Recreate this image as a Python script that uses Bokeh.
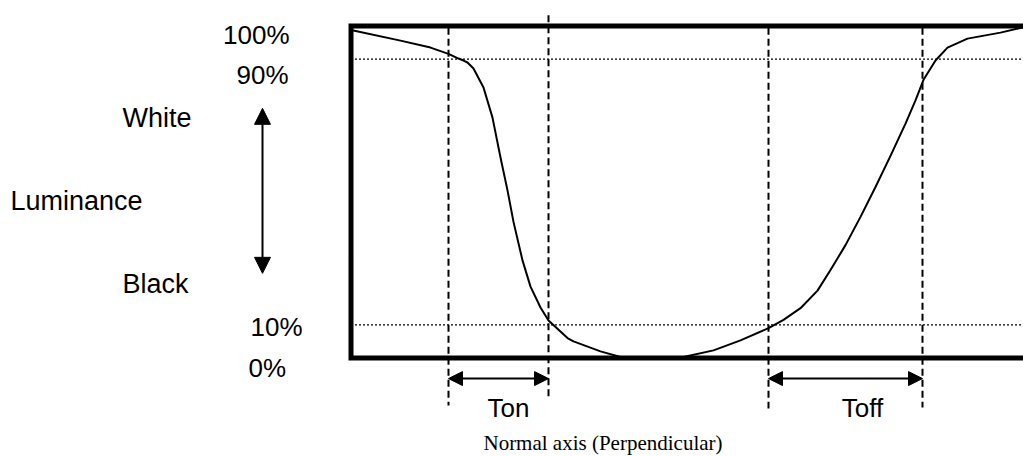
from bokeh.plotting import figure
from bokeh.models import Arrow, NormalHead
from bokeh.core.properties import value
from bokeh.embed import file_html
from bokeh.resources import INLINE

# ---- data (time in arbitrary units, luminance in %) ----
t_curve = [0.0, 4.95, 7.95, 9.75, 10.75, 11.25, 11.65, 12.25, 13.25, 14.15, 14.95,
           15.65, 16.25, 17.15, 17.95, 18.95, 19.75, 21.65, 22.25, 24.95, 26.95,
           29.95, 33.25, 36.25, 38.95, 41.75, 43.25, 44.95, 46.65, 47.95, 49.45,
           50.95, 52.45, 53.95, 55.45, 56.45, 57.25, 58.45, 59.65, 61.65, 64.95,
           67.25]
lum_curve = [98.8, 95.6, 93.5, 91.6, 90.2, 89.6, 89.0, 87.2, 81.5, 72.4, 60.4,
             50.5, 41.0, 29.4, 21.5, 15.2, 11.3, 6.0, 5.0, 2.0, 0.3,
             0.0, 0.3, 2.3, 5.3, 9.0, 11.5, 15.0, 20.3, 26.5, 34.0,
             42.5, 51.5, 60.9, 70.6, 77.6, 83.8, 89.6, 93.5, 96.2, 98.0,
             99.6]

box_left, box_right = 0.0, 70.0
lum_min, lum_max = 0.0, 100.0
thresholds = [90.0, 10.0]

marker_t = [9.75, 19.75, 41.75, 57.15]          # Ton start/end, Toff start/end
marker_top = [99.5, 103.2, 99.5, 99.5]
marker_bottom = [-14.3, -12.2, -15.2, -14.9]

ton = (9.75, 19.75)
toff = (41.75, 57.15)
span_arrow_y = -6.2

lum_arrow_t = -8.85
lum_arrow_top, lum_arrow_bottom = 75.2, 25.5

pct_right_labels = ["100%", "90%"]
pct_right_t = [-6.15, -6.25]
pct_right_y = [97.4, 85.1]

pct_left_labels = ["10%", "0%"]
pct_left_t = [-10.05, -10.25]
pct_left_y = [9.2, -2.9]

word_labels = ["White", "Luminance", "Black"]
word_t = [-22.85, -34.05, -22.85]
word_y = [72.4, 47.4, 22.4]

span_labels = ["Ton", "Toff"]
span_t = [15.75, 51.15]
span_y = [-15.2, -15.2]

axis_title = "Normal axis (Perpendicular)"
axis_title_t = 25.2
axis_title_y = -25.6

# ---- figure ----
p = figure(width=1023, height=456, x_range=(-35.05, 67.25), y_range=(-29.67, 107.68),
           output_backend="svg", toolbar_location=None, min_border=0,
           background_fill_color="white", border_fill_color="white")
p.axis.visible = False
p.grid.visible = False
p.outline_line_color = None

# threshold dotted lines
for th in thresholds:
    p.line([box_left, box_right], [th, th], line_color="black", line_width=1.3,
           line_dash="2 2")

# marker dashed lines
p.segment(x0=marker_t, y0=marker_top, x1=marker_t, y1=marker_bottom,
          line_color="black", line_width=2, line_dash="7 4")

# response curve
p.line(t_curve, lum_curve, line_color="black", line_width=2, line_join="round")

# box
p.line([box_right, box_left, box_left, box_right], [lum_max, lum_max, lum_min, lum_min],
       line_color="black", line_width=5, line_join="miter")

# span arrows
for a, b in (ton, toff):
    p.add_layout(Arrow(x_start=a, y_start=span_arrow_y, x_end=b, y_end=span_arrow_y,
                       line_width=2, line_color="black",
                       start=NormalHead(size=14, fill_color="black", line_color="black"),
                       end=NormalHead(size=14, fill_color="black", line_color="black")))

# luminance arrow
p.add_layout(Arrow(x_start=lum_arrow_t, y_start=lum_arrow_bottom, x_end=lum_arrow_t,
                   y_end=lum_arrow_top, line_width=2, line_color="black",
                   start=NormalHead(size=16, fill_color="black", line_color="black"),
                   end=NormalHead(size=16, fill_color="black", line_color="black")))

sans = value("Liberation Sans")
p.text(x=pct_right_t, y=pct_right_y, text=pct_right_labels, text_font=sans,
       text_font_size="26px", text_align="right", text_baseline="alphabetic",
       text_color="black")
p.text(x=pct_left_t, y=pct_left_y, text=pct_left_labels, text_font=sans,
       text_font_size="26px", text_align="left", text_baseline="alphabetic",
       text_color="black")
p.text(x=word_t, y=word_y, text=word_labels, text_font=sans,
       text_font_size="27px", text_align="left", text_baseline="alphabetic",
       text_color="black")
p.text(x=span_t, y=span_y, text=span_labels, text_font=sans,
       text_font_size="26px", text_align="center", text_baseline="alphabetic",
       text_color="black")
p.text(x=[axis_title_t], y=[axis_title_y], text=[axis_title],
       text_font=value("Liberation Serif"), text_font_size="21px",
       text_align="center", text_baseline="alphabetic", text_color="black")

open("out.html", "w").write(file_html(p, INLINE))
